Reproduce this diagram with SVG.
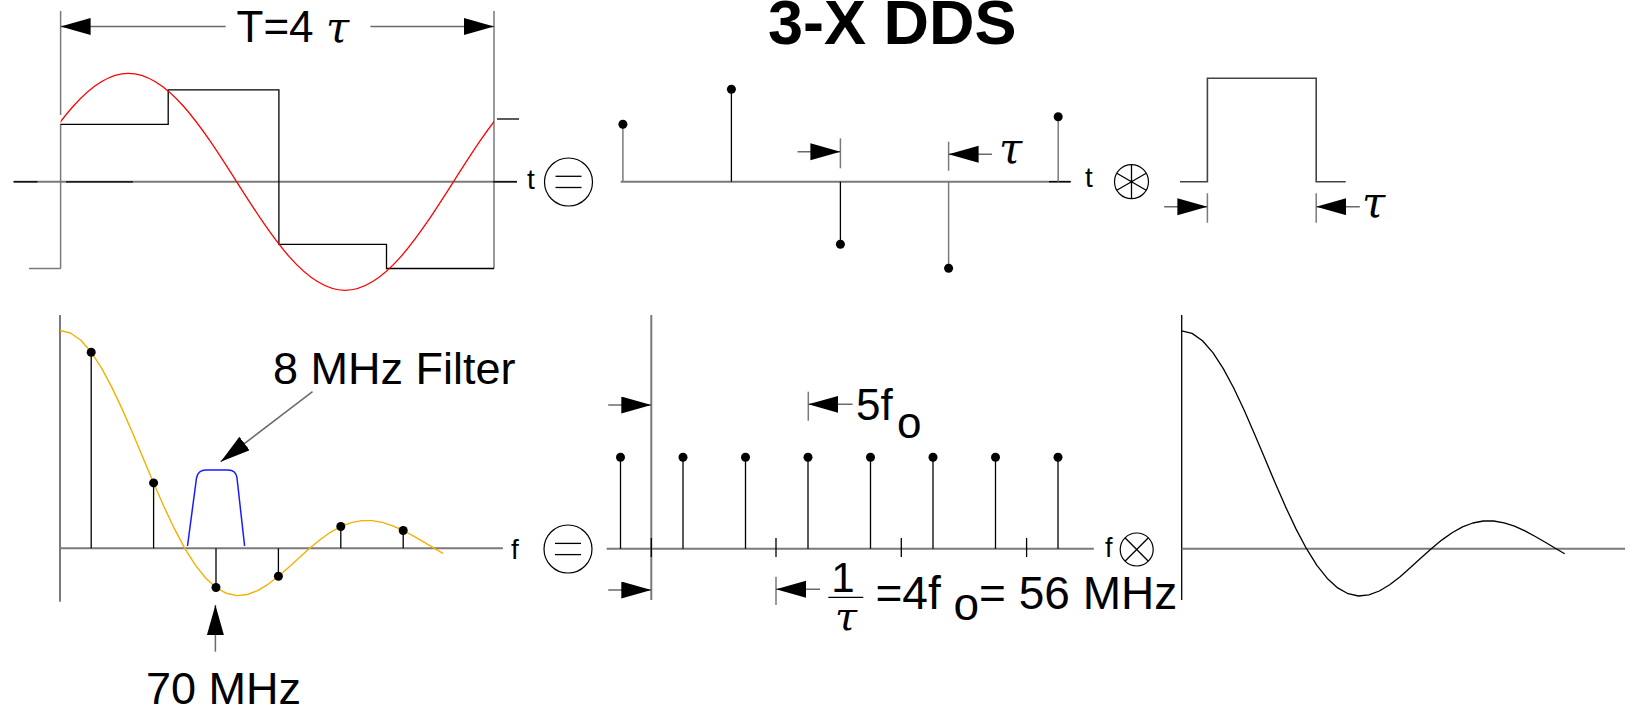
<svg xmlns="http://www.w3.org/2000/svg" xmlns:xlink="http://www.w3.org/1999/xlink" width="1638" height="707" viewBox="0 0 1638 707">
<style>
.ax{stroke:#7a7a7a;stroke-width:2;fill:none}
.gl{stroke:#7a7a7a;stroke-width:1.5;fill:none}
.bl{stroke:#000;stroke-width:1.3;fill:none}
.dot{fill:#000}
.lbl{font-family:"Liberation Sans",Arial,sans-serif;fill:#000}
.tau{font-family:"DejaVu Serif","Liberation Serif",serif;font-style:italic;fill:#000}
.arr{stroke:#6a6a6a;stroke-width:1.5;fill:none;marker-end:url(#ah)}
</style>
<defs>
<marker id="ah" markerUnits="userSpaceOnUse" markerWidth="32" markerHeight="20" refX="30" refY="8.5" orient="auto">
<path d="M0,0 L30,8.5 L0,17 z" fill="#000"/>
</marker>
<clipPath id="clipSine"><rect x="60.6" y="0" width="433.4" height="707"/></clipPath>
<polyline id="sinc" fill="none" stroke-linejoin="round" points="60,330.5 70.4,333 80.8,340.3 91.2,352.2 101.6,368.2 112,387.6 122.4,409.6 132.8,433.5 143.2,458.2 153.6,482.9 164,506.7 174.4,528.7 184.8,548.3 195.2,564.9 205.6,578 216,587.5 226.4,593.3 236.8,595.6 247.2,594.5 257.6,590.6 268,584.3 278.4,576.3 288.8,567.2 299.2,557.7 309.6,548.3 320,539.7 330.4,532.3 340.8,526.5 351.2,522.6 361.6,520.6 372,520.6 382.4,522.4 392.8,525.8 403.2,530.5 413.6,536.1 424,542.1 434.4,548.3 443,553.4"/>
</defs>

<text class="lbl" x="768" y="43.5" font-size="63" font-weight="bold">3-X DDS</text>

<g id="time-wave">
<line class="gl" x1="60.6" y1="11" x2="60.6" y2="115"/>
<line class="gl" x1="60.6" y1="124" x2="60.6" y2="268.5"/>
<line class="gl" x1="494" y1="11" x2="494" y2="268.5"/>
<line class="ax" x1="13.6" y1="181.8" x2="517" y2="181.8"/>
<line class="bl" x1="13.6" y1="181.8" x2="37.5" y2="181.8" stroke-width="2"/>
<line class="bl" x1="66" y1="181.8" x2="133" y2="181.8" stroke-width="2" stroke="#333"/>
<line class="bl" x1="493" y1="181.8" x2="517" y2="181.8" stroke-width="2"/>
<line class="gl" x1="29" y1="268.5" x2="60.6" y2="268.5"/>
<line class="bl" x1="497" y1="119" x2="519" y2="119"/>
<polyline class="bl" points="60.6,124.3 168.2,124.3 168.2,89.8 278.9,89.8 278.9,244.4 386.5,244.4 386.5,268.5 494,268.5"/>
<path clip-path="url(#clipSine)" fill="none" stroke="#ff0000" stroke-width="1.3" d="M20,181.8 C55.34,126.2 89.18,73.3 128.35,73.3 C167.52,73.3 201.36,126.2 236.7,181.8 C272.04,237.4 305.88,290.3 345.05,290.3 C384.22,290.3 418.06,237.4 453.4,181.8 C488.74,126.2 522.58,73.3 561.75,73.3"/>
<text class="lbl" x="236.5" y="41.7" font-size="44">T=4</text>
<text class="tau" x="326" y="42" font-size="42">τ</text>
<text class="lbl" x="527" y="189" font-size="28">t</text>
</g>

<g id="op-equal-top">
<circle cx="568.5" cy="182" r="24" fill="none" stroke="#000" stroke-width="1.2"/>
<line class="bl" x1="555.5" y1="176.3" x2="581.5" y2="176.3"/>
<line class="bl" x1="555.5" y1="187.5" x2="581.5" y2="187.5"/>
</g>

<g id="impulses">
<line class="ax" x1="620.7" y1="181.7" x2="1070.7" y2="181.7"/>
<line class="bl" x1="1049" y1="181.7" x2="1070.7" y2="181.7" stroke-width="2"/>
<line class="gl" x1="622.9" y1="181.7" x2="622.9" y2="124.3"/>
<circle class="dot" cx="622.9" cy="124.3" r="4.5"/>
<line class="bl" x1="731.4" y1="181.7" x2="731.4" y2="89.3"/>
<circle class="dot" cx="731.4" cy="89.3" r="4.5"/>
<line class="bl" x1="840.4" y1="181.7" x2="840.4" y2="244.3"/>
<circle class="dot" cx="840.4" cy="244.3" r="4.5"/>
<line class="gl" x1="948.6" y1="181.7" x2="948.6" y2="268.3"/>
<circle class="dot" cx="948.6" cy="268.3" r="4.5"/>
<line class="gl" x1="1058.2" y1="181.7" x2="1058.2" y2="116.7"/>
<circle class="dot" cx="1058.2" cy="116.7" r="4.5"/>
<line class="gl" x1="840.4" y1="138.3" x2="840.4" y2="168.3"/>
<line class="gl" x1="948.6" y1="141.7" x2="948.6" y2="170.7"/>
<text class="tau" x="999" y="163" font-size="42">τ</text>
<text class="lbl" x="1085" y="187" font-size="28">t</text>
</g>

<g id="op-conv-top">
<circle cx="1131.5" cy="181.7" r="17" fill="none" stroke="#000" stroke-width="1.2"/>
<line class="bl" x1="1131.5" y1="164.7" x2="1131.5" y2="198.7" stroke-width="1"/>
<line class="bl" x1="1116.8" y1="173.2" x2="1146.2" y2="190.2" stroke-width="1"/>
<line class="bl" x1="1116.8" y1="190.2" x2="1146.2" y2="173.2" stroke-width="1"/>
<circle class="dot" cx="1131.5" cy="181.7" r="1.5"/>
</g>

<g id="pulse">
<polyline points="1180,181.7 1207.4,181.7 1207.4,78.3 1316.2,78.3 1316.2,181.7 1345.7,181.7" fill="none" stroke="#444" stroke-width="1.6"/>
<line class="gl" x1="1207.4" y1="193.3" x2="1207.4" y2="222.7"/>
<line class="gl" x1="1316.2" y1="193.3" x2="1316.2" y2="222.7"/>
<text class="tau" x="1362" y="217" font-size="42">τ</text>
</g>

<g id="spectrum">
<line class="ax" x1="60" y1="315" x2="60" y2="601.7"/>
<line class="ax" x1="60" y1="548.3" x2="502.9" y2="548.3"/>
<line class="bl" x1="91.2" y1="548.3" x2="91.2" y2="352.2"/>
<line class="bl" x1="153.6" y1="548.3" x2="153.6" y2="482.9"/>
<line class="bl" x1="216" y1="548.3" x2="216" y2="587.5"/>
<line class="bl" x1="278.4" y1="548.3" x2="278.4" y2="576.3"/>
<line class="bl" x1="340.8" y1="548.3" x2="340.8" y2="526.5"/>
<line class="bl" x1="403.2" y1="548.3" x2="403.2" y2="530.5"/>
<use xlink:href="#sinc" href="#sinc" stroke="#f5b000" stroke-width="1.4"/>
<circle class="dot" cx="91.2" cy="352.2" r="4.5"/>
<circle class="dot" cx="153.6" cy="482.9" r="4.5"/>
<circle class="dot" cx="216" cy="587.5" r="4.5"/>
<circle class="dot" cx="278.4" cy="576.3" r="4.5"/>
<circle class="dot" cx="340.8" cy="526.5" r="4.5"/>
<circle class="dot" cx="403.2" cy="530.5" r="4.5"/>
<path d="M187.5,546 L196.5,478 Q198,470 206,470 L228,470 Q236,470 237,478 L244.6,546" fill="none" stroke="#1a1aff" stroke-width="1.5"/>
<text class="lbl" x="273" y="383.5" font-size="45">8 MHz Filter</text>
<text class="lbl" x="146" y="704" font-size="45">70 MHz</text>
<text class="lbl" x="511" y="559" font-size="28">f</text>
</g>

<g id="op-equal-bottom">
<circle cx="568" cy="549" r="24" fill="none" stroke="#000" stroke-width="1.2"/>
<line class="bl" x1="555" y1="543.4" x2="581" y2="543.4"/>
<line class="bl" x1="555" y1="554.6" x2="581" y2="554.6"/>
</g>

<g id="comb">
<line class="ax" x1="651.3" y1="315" x2="651.3" y2="600"/>
<line class="ax" x1="606.7" y1="548.7" x2="1093.8" y2="548.7"/>
<line class="bl" x1="776" y1="538" x2="776" y2="557"/>
<line class="bl" x1="901.3" y1="538" x2="901.3" y2="557"/>
<line class="bl" x1="1026.6" y1="538" x2="1026.6" y2="557"/>
<line class="bl" x1="651.3" y1="538" x2="651.3" y2="557"/>
<line class="bl" x1="620.5" y1="548.7" x2="620.5" y2="457.3"/>
<line class="bl" x1="683" y1="548.7" x2="683" y2="457.3"/>
<line class="bl" x1="745.5" y1="548.7" x2="745.5" y2="457.3"/>
<line class="bl" x1="808" y1="548.7" x2="808" y2="457.3"/>
<line class="bl" x1="870.5" y1="548.7" x2="870.5" y2="457.3"/>
<line class="bl" x1="933" y1="548.7" x2="933" y2="457.3"/>
<line class="bl" x1="995.5" y1="548.7" x2="995.5" y2="457.3"/>
<line class="bl" x1="1058" y1="548.7" x2="1058" y2="457.3"/>
<circle class="dot" cx="620.5" cy="457.3" r="4.5"/>
<circle class="dot" cx="683" cy="457.3" r="4.5"/>
<circle class="dot" cx="745.5" cy="457.3" r="4.5"/>
<circle class="dot" cx="808" cy="457.3" r="4.5"/>
<circle class="dot" cx="870.5" cy="457.3" r="4.5"/>
<circle class="dot" cx="933" cy="457.3" r="4.5"/>
<circle class="dot" cx="995.5" cy="457.3" r="4.5"/>
<circle class="dot" cx="1058" cy="457.3" r="4.5"/>
<line class="gl" x1="808.3" y1="391.7" x2="808.3" y2="420.7"/>
<text class="lbl" x="856" y="420" font-size="44">5f<tspan x="897" y="438">o</tspan></text>
<line class="gl" x1="776" y1="576.7" x2="776" y2="605"/>
<text class="lbl" x="843" y="591.7" font-size="42" text-anchor="middle">1</text>
<line class="bl" x1="828.3" y1="597.3" x2="863.3" y2="597.3"/>
<text class="tau" x="846" y="630" font-size="40" text-anchor="middle">τ</text>
<text class="lbl" x="875.5" y="608.5" font-size="46">=4f <tspan y="619.5">o</tspan><tspan y="608.5">= 56 MHz</tspan></text>
<text class="lbl" x="1105" y="557" font-size="27">f</text>
</g>

<g id="op-conv-bottom">
<circle cx="1136.7" cy="549.5" r="16.5" fill="none" stroke="#000" stroke-width="1.2"/>
<line class="bl" x1="1125" y1="537.8" x2="1148.4" y2="561.2" stroke-width="1"/>
<line class="bl" x1="1125" y1="561.2" x2="1148.4" y2="537.8" stroke-width="1"/>
</g>

<g id="sinc-envelope">
<line class="bl" x1="1181.7" y1="315" x2="1181.7" y2="600"/>
<line class="ax" x1="1181.7" y1="548.7" x2="1625" y2="548.7"/>
<use xlink:href="#sinc" href="#sinc" transform="translate(1121.7,0.4)" stroke="#000" stroke-width="1.3"/>
</g>

<g id="connectors">
<line class="arr" x1="225.7" y1="26.5" x2="60.6" y2="26.5"/>
<line class="arr" x1="370.4" y1="26.5" x2="494" y2="26.5"/>
<line class="arr" x1="797.5" y1="151.7" x2="840.4" y2="151.7"/>
<line class="arr" x1="992" y1="154.3" x2="948.6" y2="154.3"/>
<line class="arr" x1="1164.2" y1="206.7" x2="1207.4" y2="206.7"/>
<line class="arr" x1="1359.8" y1="206.7" x2="1316.2" y2="206.7"/>
<line class="arr" x1="608.2" y1="405" x2="651.3" y2="405"/>
<line class="arr" x1="608.2" y1="590" x2="651.3" y2="590"/>
<line class="arr" x1="852.6" y1="404.3" x2="808.3" y2="404.3"/>
<line class="arr" x1="820" y1="589.3" x2="776" y2="589.3"/>
<line class="arr" x1="312.5" y1="391.7" x2="220.7" y2="461.7" stroke="#000" stroke-width="1.2"/>
<line class="arr" x1="215.4" y1="651.7" x2="215.4" y2="605" stroke="#000" stroke-width="1.2"/>
</g>
</svg>
